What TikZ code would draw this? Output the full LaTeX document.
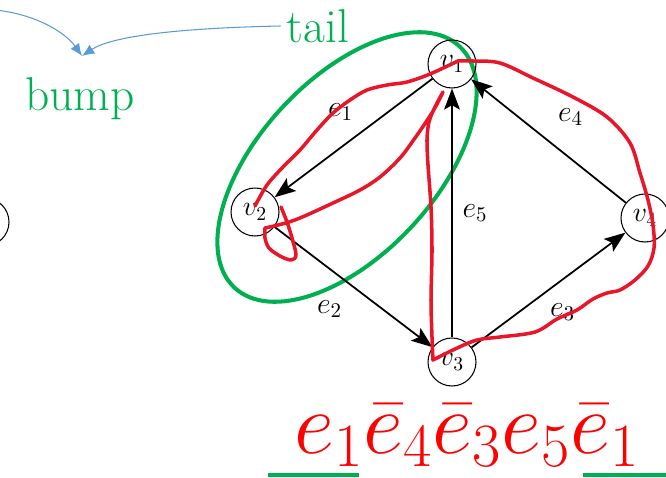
\RequirePackage{fix-cm}
\documentclass[tikz,border=0pt]{standalone}
\usetikzlibrary{arrows.meta}
\definecolor{tailgreen}{RGB}{0,176,80}
\definecolor{walkred}{RGB}{232,22,40}
\definecolor{noteblue}{RGB}{91,155,213}

\begin{document}
\begin{tikzpicture}[x=0.02cm, y=-0.02cm,
  vert/.style={circle, draw, line width=0.6pt, minimum size=0.96cm, inner sep=0pt, font=\fontsize{16}{16}\selectfont},
  lbl/.style={font=\fontsize{17}{17}\selectfont},
  edgearrow/.style={line width=1pt, -{Stealth[length=12pt, width=9pt, inset=2.5pt]}},
  tagtext/.style={text=tailgreen, font=\fontsize{27}{27}\selectfont},
  pointer/.style={noteblue, line width=0.6pt, -{Latex[length=7pt, width=6pt]}},
  walk/.style={walkred, line width=2pt, line join=round, line cap=round}]
\useasboundingbox (0,0) rectangle (666,477);

% the tail: green ellipse round v1 and v2
\draw[tailgreen, line width=2.3pt, rotate around={47:(347,167)}] (347,167) ellipse [x radius=3.3cm, y radius=1.76cm];

% vertices
\node[vert] (v0) at (-15,222) {};
\node[vert] (v1) at (452,64) {$v_1$};
\node[vert] (v2) at (255,212) {$v_2$};
\node[vert] (v3) at (452,362) {$v_3$};
\node[vert] (v4) at (645,218) {$v_4$};

% edges
\draw[edgearrow] (v1) -- (v2) node[lbl, midway, shift={(-13,-26)}] (le1) {$e_1$};
\draw[edgearrow] (v2) -- (v3) node[lbl, midway, shift={(-24,22)}] (le2) {$e_2$};
\draw[edgearrow] (v3) -- (v4) node[lbl, midway, shift={(14,22)}] (le3) {$e_3$};
\draw[edgearrow] (v4) -- (v1) node[lbl, midway, shift={(22,-24)}] (le4) {$e_4$};
\draw[edgearrow] (v3) -- (v1) node[lbl, midway, shift={(23,0)}] (le5) {$e_5$};

% the closed walk, drawn by hand
\draw[walk] plot[smooth, tension=0.55] coordinates {(255,206) (267,185) (283,167) (300,150) (317,130) (333,113) (350,100) (367,90) (387,85) (407,82) (430,74) (458,61)}
  -- plot[smooth, tension=0.55] coordinates {(458,61) (473,61) (500,63) (533,78) (573,97) (607,117) (630,143) (640,173) (648,200) (653,225) (654,248) (648,266) (635,280) (620,290) (607,293) (593,299) (577,310) (557,319) (535,332) (500,337) (477,340) (455,349) (433,360)}
  -- plot[smooth, tension=0.55] coordinates {(433,360) (432,337) (431,300) (432,250) (431,207) (428,165) (427,140) (429,122) (435,107) (443,92)}
  -- plot[smooth, tension=0.55] coordinates {(443,92) (436,106) (428,119) (415,138) (400,158) (380,177) (360,190) (333,203) (300,218) (282,224) (265,228)}
  -- plot[smooth, tension=0.55] coordinates {(265,228) (265,238) (269,248) (280,256) (291,260) (296,255) (292,238) (287,222) (281,207)};

% tags and pointers
\node[tagtext] (bump) at (80,99) {bump};
\node[tagtext] (tail) at (318,26) {tail};
\coordinate (meet) at (82,56);
\coordinate (offleft) at (-5,10);
\draw[pointer] (offleft) .. controls (35,14) and (65,32) .. (meet);
\draw[pointer] (tail.west) .. controls (180,28) and (112,36) .. (meet);

% the word of the walk
\node[text=red, font=\fontsize{50}{50}\selectfont, anchor=base] (word) at (467,453) {$e_1\bar{e}_4\bar{e}_3e_5\bar{e}_1$};
\draw[tailgreen, line width=1.8pt] (268,475) -- (359,475);
\draw[tailgreen, line width=1.8pt] (583,475) -- (680,475);

\end{tikzpicture}
\end{document}
